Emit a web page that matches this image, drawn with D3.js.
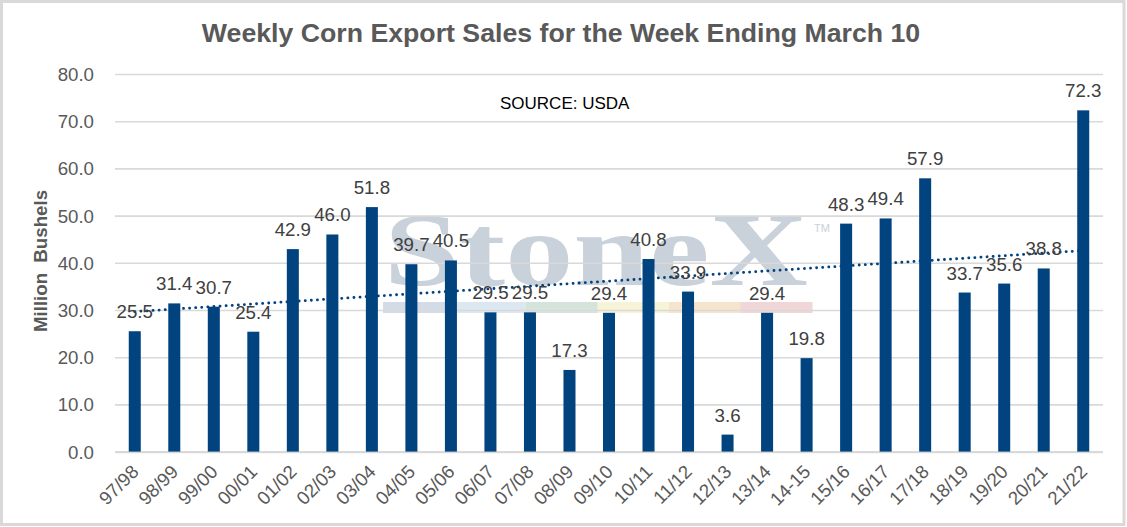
<!DOCTYPE html>
<html>
<head>
<meta charset="utf-8">
<script src="https://cdn.jsdelivr.net/npm/d3@7"></script>
<style>
    body { margin: 0; background: #fff; }
    text { font-family: Arial, "Liberation Sans", sans-serif; }
</style>
</head>
<body>
<div id="chart-area"></div>
<script>
//____________________________DATA________________________//
const seasons = ['97/98', '98/99', '99/00', '00/01', '01/02', '02/03', '03/04', '04/05', '05/06',
    '06/07', '07/08', '08/09', '09/10', '10/11', '11/12', '12/13', '13/14', '14-15', '15/16',
    '16/17', '17/18', '18/19', '19/20', '20/21', '21/22']
const sales = [25.5, 31.4, 30.7, 25.4, 42.9, 46.0, 51.8, 39.7, 40.5, 29.5, 29.5, 17.3, 29.4,
    40.8, 33.9, 3.6, 29.4, 19.8, 48.3, 49.4, 57.9, 33.7, 35.6, 38.8, 72.3]
const yTicks = [0, 10, 20, 30, 40, 50, 60, 70, 80]
const stripColors = ['#d3dce6', '#dbe7f1', '#d4e4da', '#f6f3d6', '#f6e5cd', '#f1d6d7']

const WIDTH = 1127
const HEIGHT = 527
const BAR_COLOR = '#00437f'

//____________________________SVG________________________//
const svg = d3.select('#chart-area').append('svg')
    .attr('width', WIDTH)
    .attr('height', HEIGHT)

svg.append('rect')
    .attr('x', 1.5)
    .attr('y', 1.5)
    .attr('width', WIDTH - 4.5)
    .attr('height', HEIGHT - 4)
    .attr('fill', '#fff')
    .attr('stroke', '#d9d9d9')
    .attr('stroke-width', 3)

const x = d3.scaleBand()
    .domain(seasons)
    .range([115, 1103])
    .paddingInner(0.696)
    .paddingOuter(0.348)

const y = d3.scaleLinear()
    .domain([0, 80])
    .range([451.6, 74])

//______WATERMARK (behind the grid)_____//
const mark = svg.append('g').attr('class', 'watermark')

mark.append('text')
    .attr('x', 384)
    .attr('y', 285)
    .attr('textLength', 424)
    .attr('lengthAdjust', 'spacingAndGlyphs')
    .style('font-family', '"Liberation Serif", "Times New Roman", serif')
    .style('font-weight', 'bold')
    .style('font-size', '104px')
    .attr('fill', '#c9d1da')
    .text('StoneX')

mark.append('text')
    .attr('x', 814)
    .attr('y', 232)
    .style('font-size', '11px')
    .attr('fill', '#c9d1da')
    .text('TM')

const stripX = d3.scaleLinear().domain([0, stripColors.length]).range([383, 812])
mark.selectAll('rect')
    .data(stripColors)
    .join('rect')
    .attr('x', (d, i) => stripX(i))
    .attr('y', 302)
    .attr('width', stripX(1) - stripX(0) + 0.5)
    .attr('height', 11)
    .attr('fill', d => d)

//______GRID + Y AXIS_____//
const yAxis = svg.append('g')
    .attr('transform', 'translate(115,0)')
    .call(d3.axisLeft(y).tickValues(yTicks).tickSize(-988).tickFormat(d3.format('.1f')))

yAxis.select('.domain').remove()
yAxis.selectAll('.tick line')
    .attr('stroke', '#d9d9d9')
    .attr('stroke-width', d => d === 0 ? 2.2 : 1.6)
yAxis.selectAll('.tick text')
    .attr('x', -21)
    .attr('dy', '0.35em')
    .style('font-size', '18.7px')
    .attr('fill', '#595959')

//______BARS_____//
svg.append('g')
    .selectAll('rect')
    .data(sales)
    .join('rect')
    .attr('x', (d, i) => x(seasons[i]))
    .attr('y', d => y(d))
    .attr('width', x.bandwidth())
    .attr('height', d => y(0) - y(d))
    .attr('fill', BAR_COLOR)

//______LINEAR TRENDLINE (least squares on the bars)_____//
const idx = sales.map((d, i) => i)
const mx = d3.mean(idx)
const my = d3.mean(sales)
const slope = d3.sum(idx, i => (i - mx) * (sales[i] - my)) / d3.sum(idx, i => (i - mx) ** 2)
const icpt = my - slope * mx
const cx = i => x(seasons[i]) + x.bandwidth() / 2

svg.append('line')
    .attr('x1', cx(0))
    .attr('y1', y(icpt))
    .attr('x2', cx(sales.length - 1))
    .attr('y2', y(icpt + slope * (sales.length - 1)))
    .attr('stroke', BAR_COLOR)
    .attr('stroke-width', 2.8)
    .attr('stroke-linecap', 'round')
    .attr('stroke-dasharray', '0.1 6')

//______DATA LABELS_____//
svg.append('g')
    .selectAll('text')
    .data(sales)
    .join('text')
    .attr('x', (d, i) => cx(i))
    .attr('y', d => y(d) - 13)
    .attr('text-anchor', 'middle')
    .style('font-size', '18.7px')
    .attr('fill', '#404040')
    .text(d => d3.format('.1f')(d))

//______X LABELS_____//
svg.append('g')
    .selectAll('text')
    .data(seasons)
    .join('text')
    .attr('transform', (d, i) => `translate(${cx(i) + 5},${473}) rotate(-45)`)
    .attr('text-anchor', 'end')
    .style('font-size', '18.7px')
    .attr('fill', '#595959')
    .text(d => d)

//______TITLES_____//
svg.append('text')
    .attr('x', 561)
    .attr('y', 42)
    .attr('text-anchor', 'middle')
    .style('font-size', '26.7px')
    .style('font-weight', 'bold')
    .attr('fill', '#595959')
    .text('Weekly Corn Export Sales for the Week Ending March 10')

svg.append('text')
    .attr('transform', 'translate(47,261) rotate(-90)')
    .attr('text-anchor', 'middle')
    .style('font-size', '18.7px')
    .style('font-weight', 'bold')
    .style('word-spacing', '5px')
    .attr('fill', '#595959')
    .text('Million Bushels')

svg.append('text')
    .attr('x', 500)
    .attr('y', 109)
    .style('font-size', '17px')
    .attr('fill', '#000')
    .text('SOURCE: USDA')
</script>
</body>
</html>
